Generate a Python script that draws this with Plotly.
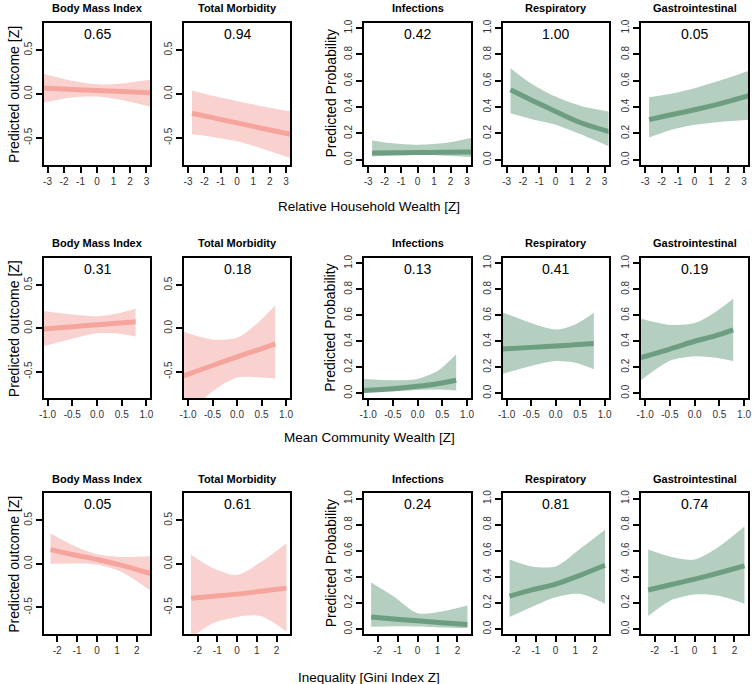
import plotly.graph_objects as go

# ---------------- data ----------------
outcomes = ["Body Mass Index", "Total Morbidity", "Infections", "Respiratory", "Gastrointestinal"]
row_titles = ["Relative Household Wealth [Z]", "Mean Community Wealth [Z]", "Inequality [Gini Index Z]"]

# Row 1: Relative Household Wealth
hh_x = [-2.76, -1.5, 0, 1.5, 3.3]
hh_x_bmi = [-3.3, -1.5, 0, 1.5, 3.3]
hh_bmi_fit = [0.067, 0.052, 0.040, 0.028, 0.013]
hh_bmi_hi = [0.235, 0.150, 0.110, 0.120, 0.165]
hh_bmi_lo = [-0.100, -0.040, -0.030, -0.070, -0.150]
hh_tm_fit = [-0.22, -0.27, -0.33, -0.39, -0.46]
hh_tm_hi = [0.04, -0.02, -0.08, -0.14, -0.20]
hh_tm_lo = [-0.46, -0.49, -0.54, -0.62, -0.73]
hh_inf_fit = [0.051, 0.053, 0.055, 0.057, 0.059]
hh_inf_hi = [0.147, 0.125, 0.114, 0.125, 0.168]
hh_inf_lo = [0.025, 0.032, 0.036, 0.032, 0.020]
hh_resp_fit = [0.532, 0.455, 0.367, 0.283, 0.212]
hh_resp_hi = [0.696, 0.580, 0.480, 0.410, 0.365]
hh_resp_lo = [0.354, 0.310, 0.266, 0.195, 0.100]
hh_gi_fit = [0.305, 0.340, 0.380, 0.425, 0.487]
hh_gi_hi = [0.476, 0.500, 0.544, 0.600, 0.676]
hh_gi_lo = [0.170, 0.225, 0.266, 0.288, 0.304]
hh_p = ["0.65", "0.94", "0.42", "1.00", "0.05"]

# Row 2: Mean Community Wealth
cw_x = [-1.1, -0.5, 0, 0.4, 0.78]
cw_bmi_fit = [-0.008, 0.019, 0.041, 0.059, 0.076]
cw_bmi_hi = [0.200, 0.160, 0.140, 0.170, 0.230]
cw_bmi_lo = [-0.210, -0.120, -0.057, -0.060, -0.095]
cw_tm_fit = [-0.55, -0.43, -0.33, -0.255, -0.18]
cw_tm_hi = [-0.04, -0.13, -0.11, 0.05, 0.265]
cw_tm_lo = [-1.05, -0.73, -0.57, -0.565, -0.58]
cw_inf_fit = [0.020, 0.035, 0.053, 0.073, 0.100]
cw_inf_hi = [0.110, 0.100, 0.110, 0.170, 0.300]
cw_inf_lo = [0.008, 0.015, 0.025, 0.028, 0.020]
cw_resp_fit = [0.340, 0.353, 0.364, 0.373, 0.382]
cw_resp_hi = [0.627, 0.540, 0.490, 0.530, 0.620]
cw_resp_lo = [0.147, 0.210, 0.248, 0.235, 0.185]
cw_gi_fit = [0.273, 0.340, 0.400, 0.440, 0.488]
cw_gi_hi = [0.575, 0.526, 0.540, 0.620, 0.727]
cw_gi_lo = [0.095, 0.250, 0.285, 0.275, 0.248]
cw_p = ["0.31", "0.18", "0.13", "0.41", "0.19"]

# Row 3: Inequality (Gini)
gini_x = [-2.33, -1.2, 0, 1.2, 2.5]
gini_x_bmi = [-2.33, -1.2, 0, 1.2, 2.7]
gini_bmi_fit = [0.163, 0.105, 0.050, -0.015, -0.113]
gini_bmi_hi = [0.351, 0.210, 0.110, 0.080, 0.087]
gini_bmi_lo = [0.000, 0.005, -0.007, -0.090, -0.310]
gini_tm_fit = [-0.396, -0.372, -0.348, -0.315, -0.279]
gini_tm_hi = [0.106, -0.050, -0.128, 0.020, 0.238]
gini_tm_lo = [-0.85, -0.68, -0.61, -0.60, -0.78]
gini_inf_fit = [0.093, 0.077, 0.063, 0.049, 0.035]
gini_inf_hi = [0.357, 0.250, 0.122, 0.135, 0.181]
gini_inf_lo = [0.018, 0.022, 0.020, 0.012, 0.008]
gini_resp_fit = [0.252, 0.300, 0.345, 0.410, 0.489]
gini_resp_hi = [0.534, 0.480, 0.480, 0.610, 0.761]
gini_resp_lo = [0.093, 0.170, 0.244, 0.270, 0.194]
gini_gi_fit = [0.300, 0.340, 0.383, 0.430, 0.484]
gini_gi_hi = [0.610, 0.555, 0.534, 0.630, 0.786]
gini_gi_lo = [0.100, 0.220, 0.265, 0.255, 0.194]
gini_p = ["0.05", "0.61", "0.24", "0.81", "0.74"]

hh_ticks = [-3, -2, -1, 0, 1, 2, 3]
hh_ticklabels = ["-3", "-2", "-1", "0", "1", "2", "3"]
cw_ticks = [-1.0, -0.5, 0.0, 0.5, 1.0]
cw_ticklabels = ["-1.0", "-0.5", "0.0", "0.5", "1.0"]
gini_ticks = [-2, -1, 0, 1, 2]
gini_ticklabels = ["-2", "-1", "0", "1", "2"]
z_ticks = [-0.5, 0.0, 0.5]
z_ticklabels = ["-0.5", "0.0", "0.5"]
prob_ticks = [0.0, 0.2, 0.4, 0.6, 0.8, 1.0]
prob_ticklabels = ["0.0", "0.2", "0.4", "0.6", "0.8", "1.0"]

# ---------------- layout geometry (pixels) ----------------
W, H = 754, 684
col_px = [(39, 147), (181, 288), (363, 471), (503, 610), (643, 751)]
row_px = [(19, 162), (255.7, 396.7), (492.3, 634)]
xtitle_y = [204, 436, 677]
FONT = "Liberation Sans, Arial, sans-serif"

PINK_LINE = "#F5A49E"
PINK_BAND = "#F9D2D0"
GREEN_LINE = "#6D9E81"
GREEN_BAND = "#B4CEBF"

rows = [
    dict(xr=[-3.24, 3.24], ticks=hh_ticks, labels=hh_ticklabels, p=hh_p,
         panels=[(hh_x_bmi, hh_bmi_fit, hh_bmi_lo, hh_bmi_hi),
                 (hh_x, hh_tm_fit, hh_tm_lo, hh_tm_hi),
                 (hh_x, hh_inf_fit, hh_inf_lo, hh_inf_hi),
                 (hh_x, hh_resp_fit, hh_resp_lo, hh_resp_hi),
                 (hh_x, hh_gi_fit, hh_gi_lo, hh_gi_hi)]),
    dict(xr=[-1.08, 1.08], ticks=cw_ticks, labels=cw_ticklabels, p=cw_p,
         panels=[(cw_x, cw_bmi_fit, cw_bmi_lo, cw_bmi_hi),
                 (cw_x, cw_tm_fit, cw_tm_lo, cw_tm_hi),
                 (cw_x, cw_inf_fit, cw_inf_lo, cw_inf_hi),
                 (cw_x, cw_resp_fit, cw_resp_lo, cw_resp_hi),
                 (cw_x, cw_gi_fit, cw_gi_lo, cw_gi_hi)]),
    dict(xr=[-2.68, 2.68], ticks=gini_ticks, labels=gini_ticklabels, p=gini_p,
         panels=[(gini_x_bmi, gini_bmi_fit, gini_bmi_lo, gini_bmi_hi),
                 (gini_x, gini_tm_fit, gini_tm_lo, gini_tm_hi),
                 (gini_x, gini_inf_fit, gini_inf_lo, gini_inf_hi),
                 (gini_x, gini_resp_fit, gini_resp_lo, gini_resp_hi),
                 (gini_x, gini_gi_fit, gini_gi_lo, gini_gi_hi)]),
]

fig = go.Figure()
layout = dict(width=W, height=H, margin=dict(l=0, r=0, t=0, b=0),
              paper_bgcolor="white", plot_bgcolor="white", showlegend=False,
              font=dict(family=FONT, color="black"))
annotations = []

def axis_common():
    return dict(showline=True, linewidth=2, linecolor="black", mirror=True,
                ticks="outside", ticklen=6, tickwidth=2, tickcolor="black",
                showgrid=False, zeroline=False,
                tickfont=dict(family=FONT, size=10, color="#333333"))

k = 0
for r, row in enumerate(rows):
    top, bot = row_px[r]
    for c in range(5):
        k += 1
        xa = "x" if k == 1 else f"x{k}"
        ya = "y" if k == 1 else f"y{k}"
        x, fit, lo, hi = row["panels"][c]
        is_prob = c >= 2
        band = GREEN_BAND if is_prob else PINK_BAND
        lc = GREEN_LINE if is_prob else PINK_LINE
        fig.add_trace(go.Scatter(x=x, y=lo, mode="lines", line=dict(width=0, color=band, shape="spline", smoothing=0.8),
                                 xaxis=xa, yaxis=ya, hoverinfo="skip"))
        fig.add_trace(go.Scatter(x=x, y=hi, mode="lines", line=dict(width=0, color=band, shape="spline", smoothing=0.8),
                                 fill="tonexty", fillcolor=band, xaxis=xa, yaxis=ya, hoverinfo="skip"))
        fig.add_trace(go.Scatter(x=x, y=fit, mode="lines", line=dict(width=5, color=lc, shape="spline", smoothing=0.8),
                                 xaxis=xa, yaxis=ya))
        x0, x1 = col_px[c]
        xd = [x0 / W, x1 / W]
        yd = [1 - bot / H, 1 - top / H]
        xax = axis_common()
        xax.update(domain=xd, range=row["xr"], tickmode="array", tickvals=row["ticks"],
                   ticktext=row["labels"], anchor=ya)
        yax = axis_common()
        if is_prob:
            yax.update(range=[-0.04, 1.04], tickvals=prob_ticks, ticktext=prob_ticklabels)
        else:
            yax.update(range=[-0.81, 0.81], tickvals=z_ticks, ticktext=z_ticklabels)
        yax.update(domain=yd, tickmode="array", tickangle=-90, anchor=xa)
        layout["xaxis" if k == 1 else f"xaxis{k}"] = xax
        layout["yaxis" if k == 1 else f"yaxis{k}"] = yax

        cx = (x0 + x1) / 2 / W
        annotations.append(dict(text=f"<b>{outcomes[c]}</b>", x=cx, y=1 - (top - 15) / H,
                                xref="paper", yref="paper", showarrow=False,
                                font=dict(family=FONT, size=11, color="black"),
                                xanchor="center", yanchor="middle"))
        annotations.append(dict(text=row["p"][c], x=cx, y=1 - (top + 11) / H,
                                xref="paper", yref="paper", showarrow=False,
                                font=dict(family=FONT, size=14, color="black"),
                                xanchor="center", yanchor="middle"))
    mid = (top + bot) / 2
    annotations.append(dict(text="Predicted outcome [Z]", x=9 / W, y=1 - mid / H, textangle=-90,
                            xref="paper", yref="paper", showarrow=False,
                            font=dict(family=FONT, size=14, color="black"),
                            xanchor="center", yanchor="middle"))
    annotations.append(dict(text="Predicted Probability", x=329 / W, y=1 - mid / H, textangle=-90,
                            xref="paper", yref="paper", showarrow=False,
                            font=dict(family=FONT, size=14, color="black"),
                            xanchor="center", yanchor="middle"))
    annotations.append(dict(text=row_titles[r], x=368 / W, y=1 - xtitle_y[r] / H,
                            xref="paper", yref="paper", showarrow=False,
                            font=dict(family=FONT, size=13.5, color="black"),
                            xanchor="center", yanchor="middle"))

layout["annotations"] = annotations
fig.update_layout(**layout)
fig.write_html("out.html", config={"displayModeBar": False},
               post_script="document.body.style.margin='0';document.body.style.overflow='hidden';")
